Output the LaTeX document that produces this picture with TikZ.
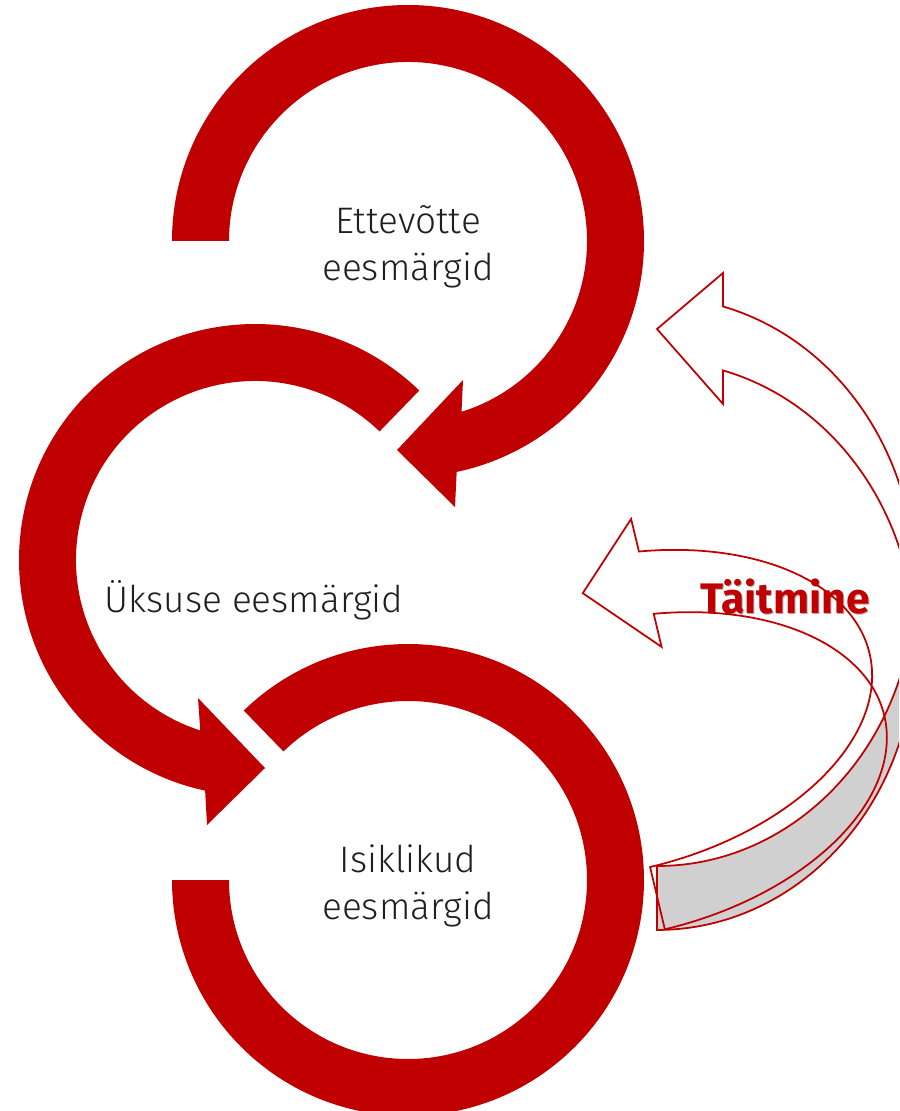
\documentclass[tikz,border=0pt]{standalone}
\usepackage{fontspec}
\setmainfont{Fira Sans Light}[BoldFont={Fira Sans Bold}]
\usepackage{tikz}
\definecolor{ringred}{RGB}{192,0,0}
\definecolor{shadowred}{RGB}{70,0,0}
\definecolor{backgray}{RGB}{208,208,208}
\tikzset{
  ring/.style      = {fill=ringred},
  outline/.style   = {draw=ringred, line width=1pt},
  backface/.style  = {fill=backgray},
  frontface/.style = {fill=white},
  lbl/.style       = {font=\fontsize{21}{27}\selectfont, text=black!88,
                      align=center, inner sep=0pt},
  hdr/.style       = {font=\fontsize{24.3}{28}\selectfont\bfseries, inner sep=0pt}
}

\begin{document}
\begin{tikzpicture}[x=0.02cm, y=-0.02cm]
\useasboundingbox (0,0) rectangle (899,1111);
\clip (0,0) rectangle (899,1111);

\coordinate (c1) at (408,241);
\coordinate (c2) at (255,560);
\coordinate (c3) at (408,880);

% red rings
\fill[ring] ([shift={(180:236)}]c1) arc[start angle=180, end angle=438.1, radius=236]
  -- (455,507) -- (397,450) -- (463,380) -- ([shift={(72.6:179)}]c1)
  arc[start angle=432.6, end angle=180, radius=179] -- cycle;
\fill[ring] ([shift={(-45.9:236)}]c2) arc[start angle=-45.9, end angle=-257.8, radius=236]
  -- (207,825) -- (265,768) -- (198,698) -- ([shift={(-252.2:179)}]c2)
  arc[start angle=-252.2, end angle=-45.9, radius=179] -- cycle;
\fill[ring] ([shift={(225.9:236)}]c3) arc[start angle=225.9, end angle=540, radius=236]
  -- ([shift={(180:179)}]c3)
  arc[start angle=540, end angle=225.9, radius=179] -- cycle;

% hollow curved arrows
\begin{scope}[shift={(657,581.5)}]
  \fill[backface] (6.46:258 and 284.5)
    arc[start angle=6.46, end angle=90, x radius=258, y radius=284.5] -- ++(0,64)
    arc[start angle=90, end angle=-6.46, x radius=258, y radius=284.5] -- cycle;
  \fill[frontface] (6.46:258 and 284.5)
    arc[start angle=6.46, end angle=-75.2, x radius=258, y radius=284.5]
    -- (66,-308.5) -- (0,-252.5) -- (66,-177.5) -- (65.9,-211.1)
    arc[start angle=-75.2, end angle=-6.46, x radius=258, y radius=284.5] -- cycle;
  \draw[outline] (0,284.5)
    arc[start angle=90, end angle=-75.2, x radius=258, y radius=284.5]
    -- (66,-308.5) -- (0,-252.5) -- (66,-177.5) -- (65.9,-211.1)
    arc[start angle=-75.2, end angle=90, x radius=258, y radius=284.5] -- cycle;
\end{scope}
\begin{scope}[shift={(613.7,714.3)}, rotate=13.4]
  \fill[frontface] (11.76:263 and 157)
    arc[start angle=11.76, end angle=-76.3, x radius=263, y radius=157]
    -- (62.2,-186) -- (-2,-125) -- (62.2,-54.5) -- (62.2,-88.5)
    arc[start angle=-76.3, end angle=-11.76, x radius=263, y radius=157] -- cycle;
  \draw[outline] (0,157)
    arc[start angle=90, end angle=-76.3, x radius=263, y radius=157]
    -- (62.2,-186) -- (-2,-125) -- (62.2,-54.5) -- (62.2,-88.5)
    arc[start angle=-76.3, end angle=90, x radius=263, y radius=157] -- cycle;
\end{scope}

% labels
\node[lbl] (goal1) at (408,247) {Ettevõtte\\eesmärgid};
\node[lbl, anchor=base] (goal2) at (254,612) {Üksuse eesmärgid};
\node[lbl] (goal3) at (408,886) {Isiklikud\\eesmärgid};
\node[hdr, text=shadowred, opacity=0.35, anchor=base] (doneshadow) at (786,614) {Täitmine};
\node[hdr, text=ringred, anchor=base] (done) at (785,613) {Täitmine};

\end{tikzpicture}
\end{document}
